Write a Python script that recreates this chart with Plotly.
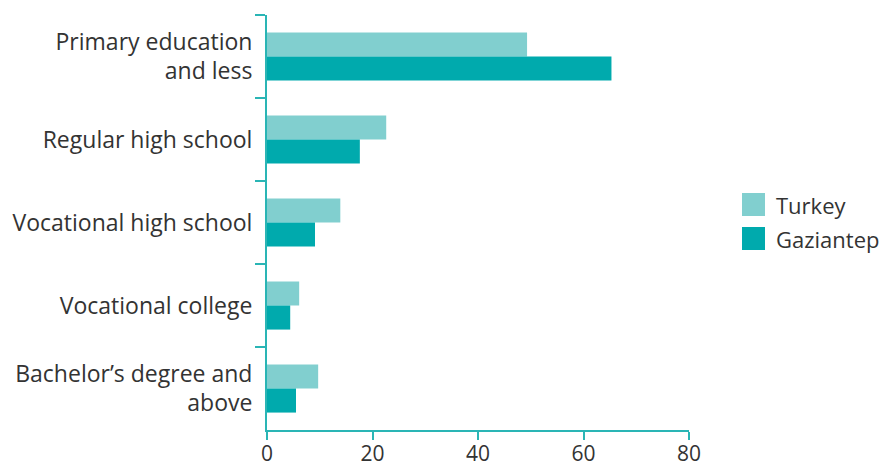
import plotly.graph_objects as go

categories = [
    "Primary education<br>and less",
    "Regular high school",
    "Vocational high school",
    "Vocational college",
    "Bachelor’s degree and<br>above",
]
series_names = ["Turkey", "Gaziantep"]
turkey = [49.3, 22.6, 13.9, 6.1, 9.7]
gaziantep = [65.3, 17.6, 9.1, 4.4, 5.5]
x_ticks = [0, 20, 40, 60, 80]

colors = ["#81CFCF", "#00AAAD"]
axis_color = "#2AB5B5"
text_color = "#333333"
font_family = "Open Sans"

fig = go.Figure()
for name, vals, col in zip(series_names, [turkey, gaziantep], colors):
    fig.add_trace(go.Bar(y=categories, x=vals, name=name, orientation="h",
                         marker=dict(color=col, line=dict(width=0)),
                         showlegend=False))

# legend drawn as square swatches with labels to the right of the plot
for i, (name, col) in enumerate(zip(series_names, colors)):
    top = 193 + i * 34
    fig.add_shape(type="rect", xref="paper", yref="paper",
                  x0=(742 - 267) / 422, x1=(765 - 267) / 422,
                  y0=(430 - top) / 415, y1=(430 - top - 23) / 415,
                  fillcolor=col, line=dict(width=0))
    fig.add_annotation(text=name, xref="paper", yref="paper",
                       x=(774 - 267) / 422, y=(430 - top - 11.5) / 415,
                       xanchor="left", yanchor="middle", showarrow=False,
                       font=dict(size=22, color=text_color))

fig.update_layout(
    width=884, height=470,
    margin=dict(l=267, r=195, t=15, b=40, autoexpand=False),
    paper_bgcolor="white", plot_bgcolor="white",
    barmode="group", bargap=0.42, bargroupgap=0,
    font=dict(family=font_family, size=23, color=text_color),
    showlegend=False,
    xaxis=dict(range=[0, 80], tickvals=x_ticks, showgrid=False, zeroline=False,
               showline=True, linecolor=axis_color, linewidth=2,
               ticks="outside", ticklen=8, tickwidth=2, tickcolor=axis_color,
               automargin=False, ticklabelstandoff=-4,
               tickfont=dict(size=21, color=text_color)),
    yaxis=dict(autorange="reversed", showgrid=False, zeroline=False,
               showline=True, linecolor=axis_color, linewidth=2,
               ticks="outside", ticklen=10, tickwidth=2, tickcolor=axis_color,
               tickson="boundaries", automargin=False, ticklabelstandoff=8,
               tickfont=dict(size=23, color=text_color)),
)

fig.write_html("out.html")
